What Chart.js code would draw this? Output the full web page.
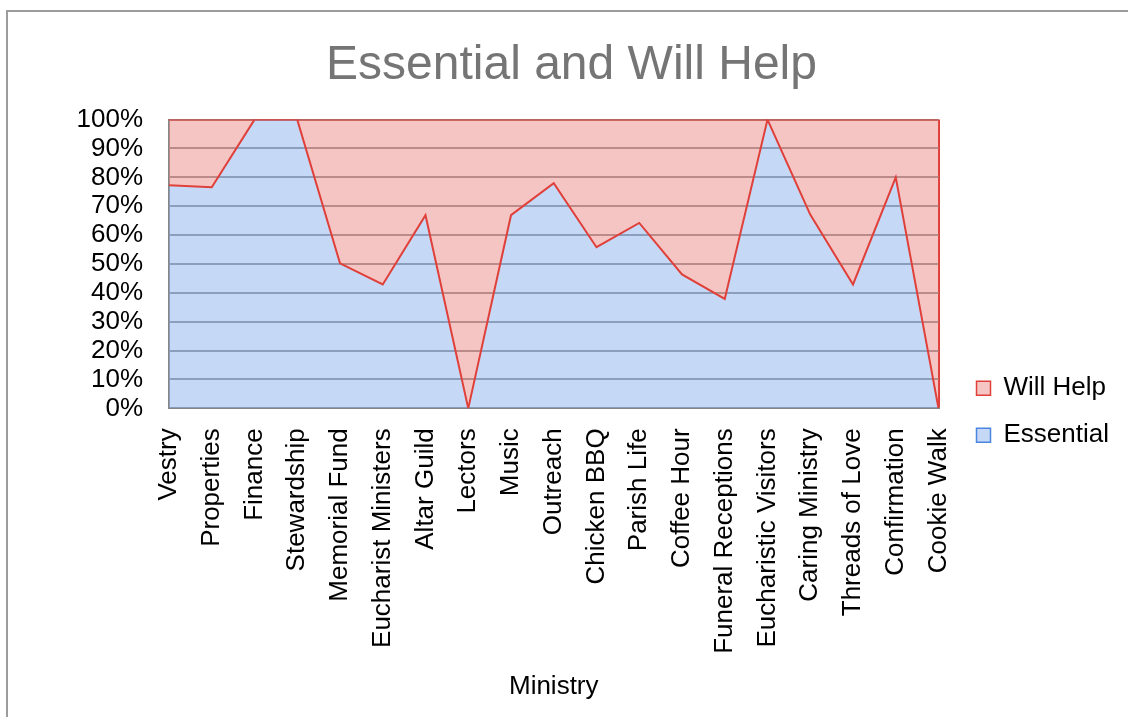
<!DOCTYPE html>
<html>
<head>
<meta charset="utf-8">
<script src="https://cdn.jsdelivr.net/npm/chart.js@4.4.0/dist/chart.umd.min.js"></script>
<style>
  html, body { margin: 0; padding: 0; background: #fff; overflow: hidden; }
  #box { position: absolute; left: 6px; top: 10px; width: 1122px; height: 710px; border-left: 2px solid #9c9c9c; border-top: 2px solid #9c9c9c; box-sizing: border-box; }
  #myChart { display: block; }
</style>
</head>
<body>
<div id="box"><canvas id="myChart" width="1120" height="708"></canvas></div>
<script>
var ministries = ["Vestry", "Properties", "Finance", "Stewardship", "Memorial Fund", "Eucharist Ministers",
    "Altar Guild", "Lectors", "Music", "Outreach", "Chicken BBQ", "Parish Life", "Coffee Hour",
    "Funeral Receptions", "Eucharistic Visitors", "Caring Ministry", "Threads of Love", "Confirmation", "Cookie Walk"];
var essential = [77.3, 76.6, 100, 100, 50.2, 42.9, 66.9, 0, 66.9, 78.0, 55.8, 64.2, 46.4, 37.9, 100, 67.1, 42.9, 80.0, 0];
var willHelp = [22.7, 23.4, 0, 0, 49.8, 57.1, 33.1, 100, 33.1, 22.0, 44.2, 35.8, 53.6, 62.1, 0, 32.9, 57.1, 20.0, 100];

var font = "'Liberation Sans', Arial, sans-serif";
var red = "#e0403a";

var ctx = document.getElementById("myChart");

var chart = new Chart(ctx, {
    type: 'line',
    data: {
        labels: ministries,
        datasets: [{
            label: "Essential",
            data: essential,
            borderColor: red,
            borderWidth: 2,
            backgroundColor: "rgba(140,180,240,0.5)",
            fill: 'origin',
            pointRadius: 0,
            tension: 0
        }, {
            label: "Will Help",
            data: willHelp,
            borderColor: red,
            borderWidth: 2,
            backgroundColor: "rgba(236,140,136,0.5)",
            fill: '-1',
            pointRadius: 0,
            tension: 0
        }]
    },
    options: {
        responsive: false,
        animation: false,
        layout: { padding: { left: 16, right: 9, bottom: 14 } },
        plugins: {
            title: {
                display: true,
                text: "Essential and Will Help",
                color: "#757575",
                font: { family: font, size: 48, weight: 'normal' },
                padding: { top: 25, bottom: 25 }
            },
            legend: {
                position: 'right',
                reverse: true,
                title: {
                    display: true,
                    text: " ",
                    font: { family: font, size: 88 },
                    padding: 0
                },
                labels: {
                    color: "#000",
                    font: { family: font, size: 26 },
                    boxWidth: 14,
                    boxHeight: 14,
                    padding: 21,
                    generateLabels: function(chart) {
                        var fills = ["#c5d9f7", "#f5c6c4"];
                        var strokes = ["#4a86e0", red];
                        return chart.data.datasets.map(function(ds, i) {
                            return {
                                text: ds.label,
                                fillStyle: fills[i],
                                strokeStyle: strokes[i],
                                lineWidth: 1.5,
                                fontColor: "#000",
                                datasetIndex: i
                            };
                        });
                    }
                }
            },
            tooltip: { enabled: false }
        },
        scales: {
            x: {
                offset: false,
                title: {
                    display: true,
                    text: "Ministry",
                    color: "#000",
                    font: { family: font, size: 26 },
                    padding: { top: 0 }
                },
                ticks: {
                    color: "#000",
                    font: { family: font, size: 26 },
                    minRotation: 90,
                    maxRotation: 90,
                    autoSkip: false,
                    padding: 20
                },
                grid: {
                    drawTicks: false,
                    color: function(c) {
                        return c.index === ministries.length - 1 ? red : "rgba(0,0,0,0)";
                    },
                    lineWidth: 2
                },
                border: { color: "#868686", width: 2 },
                afterFit: function(scale) { scale.height -= 3; }
            },
            y: {
                stacked: true,
                min: 0,
                max: 100,
                ticks: {
                    stepSize: 10,
                    autoSkip: false,
                    color: "#000",
                    font: { family: font, size: 26 },
                    padding: 26,
                    callback: function(v) { return v + "%"; }
                },
                grid: {
                    drawTicks: false,
                    color: "#8a8a8a",
                    lineWidth: 2
                },
                border: { color: "#868686", width: 2 },
                afterFit: function(scale) { scale.width = 145; }
            },
            gap: {
                position: 'right',
                type: 'linear',
                grid: { display: false },
                ticks: { display: false },
                border: { display: false },
                afterFit: function(scale) { scale.width = 17; }
            }
        }
    }
});
</script>
</body>
</html>
